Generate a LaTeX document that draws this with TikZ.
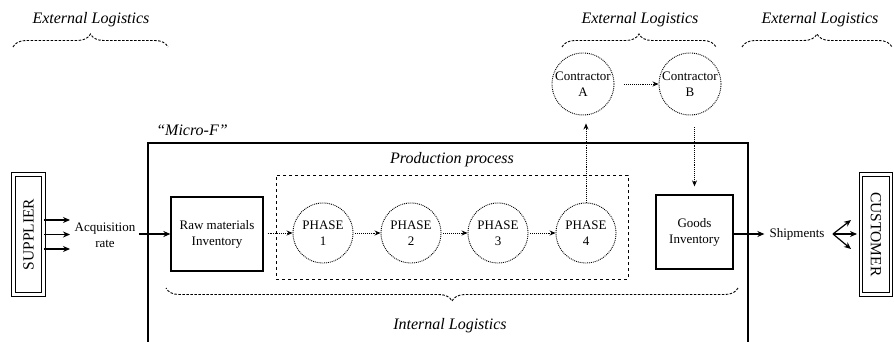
\documentclass[tikz,border=0pt]{standalone}
\usepackage{fontspec}
\setmainfont{Liberation Serif}
\usetikzlibrary{arrows.meta,decorations.pathreplacing,calc}
\begin{document}
\begin{tikzpicture}[x=1pt,y=-1pt,
  txt/.style={font=\fontsize{13}{16}\selectfont, align=center},
  lbl/.style={font=\itshape\fontsize{16}{18}\selectfont},
  box/.style={draw, line width=1.3pt, txt, inner sep=0pt},
  phase/.style={circle, draw, densely dotted, line width=0.9pt, minimum size=60pt, inner sep=0pt, txt},
  ext/.style={draw, double, double distance=2.4pt, line width=0.9pt,
    minimum width=120pt, minimum height=30pt, inner sep=0pt,
    font=\fontsize{15.5}{18}\selectfont},
  flow/.style={-{Stealth[length=7pt,width=6pt]}, line width=1.2pt},
  dflow/.style={-{Stealth[length=6pt,width=5pt]}, densely dotted, line width=0.9pt},
  bracestyle/.style={decorate, decoration={brace, amplitude=13pt},
    dash pattern=on 2.5pt off 1.5pt, line width=0.9pt},
]
\useasboundingbox (0,0) rectangle (894,342);

% company boundary (open at the bottom)
\draw[line width=1.3pt] (148,345) -- (148,143) -- (748,143) -- (748,345);
\node[lbl] (mf) at (192,130) {“Micro-F”};

% supplier side
\node[ext, rotate=90] (sup) at (28.5,234.5) {SUPPLIER};
\coordinate (s1) at (70,220);
\coordinate (s2) at (70,234.5);
\coordinate (s3) at (70,249);
\foreach \c in {s1,s2,s3} \draw[flow] (sup.south |- \c) -- (\c);
\node[txt] (acq) at (105,235.5) {Acquisition\\rate};

% raw materials
\node[box, minimum width=92pt, minimum height=74pt] (raw) at (217,234) {Raw materials\\Inventory};
\draw[flow] (acq.east |- raw.west) -- (raw.west);

% production process
\node[draw, dashed, line width=0.9pt, minimum width=352pt, minimum height=104pt, inner sep=0pt] (prod) at (452,227) {};
\node[lbl] (prodl) at (452,160) {Production process};
\node[phase] (p1) at (323,233) {PHASE\\1};
\node[phase] (p2) at (411,233) {PHASE\\2};
\node[phase] (p3) at (498,233) {PHASE\\3};
\node[phase] (p4) at (586,233) {PHASE\\4};
\draw[dflow, shorten <=4pt] (raw.east |- p1.west) -- (p1.west);
\draw[dflow, shorten <=2pt] (p1.east) -- (p2.west);
\draw[dflow, shorten <=2pt] (p2.east) -- (p3.west);
\draw[dflow, shorten <=2pt] (p3.east) -- (p4.west);

% contractors
\node[phase, minimum size=62pt] (ca) at (583,84) {Contractor\\A};
\node[phase, minimum size=62pt] (cb) at (690,84) {Contractor\\B};
\draw[dflow, shorten <=10pt] (ca.east) -- (cb.west);
\draw[dflow, shorten >=8pt] (p4.north) -- (p4.north |- ca.south);

% finished goods
\node[box, minimum width=77pt, minimum height=74pt] (gi) at (694.5,232) {Goods\\Inventory};
\draw[dflow, shorten <=12pt, shorten >=8pt] (cb.south -| gi.north) -- (gi.north);

% customer side
\node[txt, inner sep=5pt] (ship) at (797,234) {Shipments};
\draw[flow] (gi.east |- ship.west) -- (ship.west);
\node[ext, rotate=-90] (cus) at (876,234.5) {CUSTOMER};
\coordinate (fan) at (833,234);
\coordinate (c1) at (851,220);
\coordinate (c2) at (857,234);
\coordinate (c3) at (851,249);
\foreach \c in {c1,c2,c3} \draw[flow] (fan) -- (\c);

% logistics braces
\draw[bracestyle] (13,47) -- (168,47);
\node[lbl] (ext1) at (91,20) {External Logistics};
\draw[bracestyle] (562,47) -- (716,47);
\node[lbl] (ext2) at (640,20) {External Logistics};
\draw[bracestyle] (742,47) -- (892,47);
\node[lbl] (ext3) at (820,20) {External Logistics};
\draw[bracestyle] (738,288) -- (166,288);
\node[lbl] (intl) at (450,326) {Internal Logistics};
\end{tikzpicture}
\end{document}
